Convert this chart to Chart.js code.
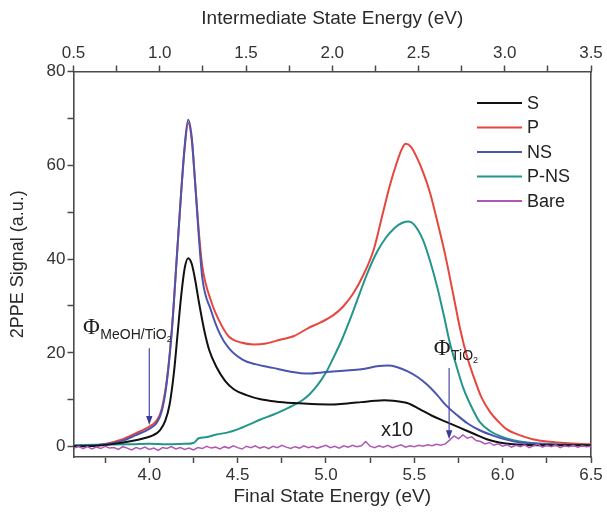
<!DOCTYPE html>
<html>
<head>
<meta charset="utf-8">
<script src="https://cdn.jsdelivr.net/npm/chart.js@4.4.1/dist/chart.umd.min.js"></script>
<style>
html,body{margin:0;padding:0;background:#fff;}
#wrap{width:607px;height:512px;}
</style>
</head>
<body>
<div id="wrap"><canvas id="c" width="607" height="512"></canvas></div>
<script>
// ---------- data ----------
const seriesNames = ['S', 'P', 'NS', 'P-NS', 'Bare'];

const sE = [3.57,3.7,3.8,3.9,3.97,4.02,4.06,4.09,4.115,4.14,4.16,4.18,4.20,4.22,4.24,4.26,4.28,4.31,4.34,4.38,4.43,4.48,4.55,4.63,4.72,4.82,4.92,5.04,5.12,5.2,5.28,5.33,5.38,5.46,5.53,5.6,5.68,5.76,5.84,5.91,5.98,6.06,6.2,6.5];
const sY = [0.1,0.2,0.6,1.2,1.8,2.4,3.5,5.5,9,16,24,32,38,40.2,39,35.5,31,25,20.5,17,14,12.2,11,10.1,9.6,9.3,9.1,9.0,9.2,9.5,9.8,9.9,9.8,9.3,8.0,6.6,5.3,4.0,2.7,1.6,0.9,0.5,0.3,0.3];

const pE = [3.57,3.65,3.75,3.85,3.92,4.00,4.04,4.07,4.10,4.13,4.155,4.18,4.20,4.22,4.24,4.26,4.28,4.30,4.35,4.40,4.45,4.52,4.59,4.66,4.74,4.82,4.9,4.97,5.04,5.1,5.155,5.21,5.27,5.32,5.36,5.40,5.43,5.45,5.48,5.51,5.55,5.59,5.64,5.68,5.72,5.76,5.8,5.835,5.88,5.93,5.98,6.02,6.1,6.17,6.25,6.35,6.5];
const pY = [0.1,0.2,0.6,1.6,2.8,4.3,5.5,8,14.5,26,40,54,63.5,69,65.5,56,46,38.5,31,26.5,23.5,22.2,21.8,22,22.8,23.6,25.3,26.5,28,30,32.7,36.5,42,49.5,55.5,60.5,63.5,64.6,64,62,58.5,54,46.5,40,32.5,25,19,15,10.5,7.3,5.2,3.8,2.4,1.6,1.1,0.8,0.5];

const nsE = [3.57,3.65,3.75,3.85,3.92,4.00,4.04,4.07,4.10,4.13,4.155,4.18,4.20,4.22,4.24,4.26,4.28,4.30,4.35,4.40,4.45,4.53,4.6,4.7,4.8,4.9,5.0,5.1,5.2,5.3,5.35,5.4,5.46,5.52,5.57,5.63,5.68,5.74,5.8,5.87,5.95,6.02,6.1,6.2,6.3,6.5];
const nsY = [0.1,0.2,0.5,1.3,2.4,3.8,5.0,7.5,14,26,40,54,64,69.7,66,56,45,36,29,24,21,18.5,17.6,16.8,16.0,15.6,15.9,16.2,16.5,17.2,17.3,17,16.1,14.8,13.3,11,8.8,6.8,5.0,3.5,2.3,1.5,0.9,0.6,0.4,0.2];

const pnsE = [3.57,3.7,3.9,4.0,4.1,4.2,4.25,4.28,4.32,4.38,4.44,4.5,4.57,4.63,4.7,4.76,4.82,4.87,4.91,4.95,5.0,5.04,5.09,5.14,5.19,5.23,5.29,5.34,5.39,5.43,5.47,5.50,5.55,5.59,5.63,5.67,5.70,5.74,5.78,5.83,5.87,5.93,5.99,6.06,6.14,6.3,6.5];
const pnsY = [0.3,0.4,0.5,0.6,0.5,0.6,0.8,1.8,2.0,2.6,3.0,3.7,4.8,5.8,6.8,7.8,8.9,10.0,11.3,13.0,15.8,18.8,22.8,27.5,32.6,36.6,41.6,44.6,46.7,47.7,48,47.3,44,39.5,34,27.5,22.3,17,12.2,8,5.3,3.3,2.2,1.4,0.9,0.5,0.3];

const bareE = [3.575,3.6,3.625,3.65,3.675,3.7,3.725,3.75,3.775,3.8,3.825,3.85,3.875,3.9,3.925,3.95,3.975,4.0,4.025,4.05,4.075,4.1,4.125,4.15,4.175,4.2,4.225,4.25,4.275,4.3,4.325,4.35,4.375,4.4,4.425,4.45,4.475,4.5,4.525,4.55,4.575,4.6,4.625,4.65,4.675,4.7,4.725,4.75,4.775,4.8,4.825,4.85,4.875,4.9,4.925,4.95,4.975,5.0,5.025,5.05,5.075,5.1,5.125,5.15,5.175,5.2,5.225,5.25,5.275,5.3,5.325,5.35,5.375,5.4,5.425,5.45,5.475,5.5,5.525,5.55,5.575,5.6,5.625,5.65,5.675,5.7,5.725,5.75,5.775,5.8,5.825,5.85,5.875,5.9,5.925,5.95,5.975,6.0,6.025,6.05,6.075,6.1,6.125,6.15,6.175,6.2,6.225,6.25,6.275,6.3,6.325,6.35,6.375,6.4,6.425,6.45,6.475,6.5];
const bareY = [-0.3,0.1,-0.4,0.0,-0.5,-0.1,-0.4,0.1,-0.3,-0.2,-0.6,0.0,-0.3,-0.7,-0.2,-0.5,-0.1,-0.6,-0.3,-0.8,-0.2,-0.4,0.0,-0.5,-0.2,-0.6,-0.3,-0.7,-0.2,-0.4,0.1,-0.3,-0.1,-0.5,0.0,-0.3,0.2,-0.2,-0.5,0.1,-0.2,0.2,-0.3,0.0,-0.4,0.1,-0.2,0.3,-0.1,-0.4,0.0,-0.3,0.2,-0.2,0.1,-0.3,0.0,0.3,-0.2,0.1,-0.3,0.2,-0.1,0.3,0.0,0.2,1.1,0.1,-0.2,0.2,-0.1,0.3,-0.2,0.1,0.4,-0.1,0.2,0.0,0.3,0.1,0.4,0.2,0.5,0.3,0.6,1.4,2.3,1.7,2.5,1.8,2.1,1.3,1.1,0.6,0.9,0.3,0.6,0.1,0.4,-0.1,0.3,0.0,0.4,-0.2,0.2,0.5,-0.1,0.3,0.0,0.4,-0.2,0.2,0.0,0.3,-0.1,0.2,0.0,0.1];

const bottomTicks = [3.75,4.0,4.25,4.5,4.75,5.0,5.25,5.5,5.75,6.0,6.25,6.5];
const topTicks = [0.5,0.75,1.0,1.25,1.5,1.75,2.0,2.25,2.5,2.75,3.0,3.25,3.5];
const leftTicks = [0,10,20,30,40,50,60,70,80];

// ---------- styling ----------
const colors = {S:'#111111', P:'#e8453e', NS:'#4a55b0', 'P-NS':'#23968b', Bare:'#b057b4'};
const axisColor = '#4a4a4a';
const textColor = '#333333';
Chart.defaults.font.family = "'Liberation Sans', Arial, sans-serif";
Chart.defaults.color = textColor;

function pts(xs, ys){ return xs.map((x,i)=>({x:x, y:ys[i]})); }
const seriesData = {S:pts(sE,sY), P:pts(pE,pY), NS:pts(nsE,nsY), 'P-NS':pts(pnsE,pnsY), Bare:pts(bareE,bareY)};
const drawOrder = {Bare:0, S:1, NS:2, 'P-NS':3, P:4};

const datasets = seriesNames.map(n => ({
  label: n,
  data: seriesData[n],
  borderColor: colors[n],
  backgroundColor: colors[n],
  borderWidth: n === 'Bare' ? 1.5 : 2,
  pointRadius: 0,
  fill: false,
  order: drawOrder[n],
  cubicInterpolationMode: n === 'Bare' ? 'default' : 'monotone',
  tension: n === 'Bare' ? 0 : 0.4
}));

function majorLabel(step, digits){
  return function(v){
    const r = v/step;
    return Math.abs(r - Math.round(r)) < 1e-6 ? Number(v).toFixed(digits) : '';
  };
}

// ---------- custom legend + annotations ----------
const extras = {
  id: 'extras',
  afterDatasetsDraw(chart){
    const ctx = chart.ctx;
    const xs = chart.scales.x, ys = chart.scales.y;
    const X = v => xs.getPixelForValue(v), Y = v => ys.getPixelForValue(v);
    ctx.save();
    // legend
    const rows = [103, 127.5, 152, 176.5, 201];
    ctx.font = "18px 'Liberation Sans', Arial, sans-serif";
    ctx.textBaseline = 'middle';
    ctx.textAlign = 'left';
    seriesNames.forEach((n,i)=>{
      ctx.strokeStyle = colors[n];
      ctx.lineWidth = 2;
      ctx.beginPath(); ctx.moveTo(477, rows[i]); ctx.lineTo(522, rows[i]); ctx.stroke();
      ctx.fillStyle = '#222';
      ctx.fillText(n, 527, rows[i] + 1);
    });
    // arrows
    function arrow(e, v1, v2){
      const x = X(e), y1 = Y(v1), y2 = Y(v2);
      ctx.strokeStyle = '#4848a8'; ctx.fillStyle = '#3a3a9a'; ctx.lineWidth = 1.2;
      ctx.beginPath(); ctx.moveTo(x, y1); ctx.lineTo(x, y2 - 7); ctx.stroke();
      ctx.beginPath(); ctx.moveTo(x - 3.2, y2 - 9); ctx.lineTo(x + 3.2, y2 - 9); ctx.lineTo(x, y2); ctx.closePath(); ctx.fill();
    }
    arrow(4.0, 21, 4.6);
    arrow(5.697, 16.8, 1.6);
    // Phi labels
    function phi(e, v, sub){
      let x = X(e), y = Y(v);
      ctx.fillStyle = '#222';
      ctx.textBaseline = 'alphabetic';
      ctx.font = "23px 'Liberation Serif', 'Times New Roman', serif";
      ctx.fillText('\u03A6', x, y);
      x += ctx.measureText('\u03A6').width + 0.5;
      ctx.font = "14px 'Liberation Sans', Arial, sans-serif";
      ctx.fillText(sub, x, y + 5);
      x += ctx.measureText(sub).width;
      ctx.font = "9px 'Liberation Sans', Arial, sans-serif";
      ctx.fillText('2', x, y + 8);
    }
    phi(3.625, 24.0, 'MeOH/TiO');
    phi(5.61, 19.6, 'TiO');
    // x10
    ctx.font = "20px 'Liberation Sans', Arial, sans-serif";
    ctx.textAlign = 'center'; ctx.textBaseline = 'middle';
    ctx.fillStyle = '#222';
    ctx.fillText('x10', X(5.402), Y(3.5));
    ctx.restore();
  }
};

new Chart(document.getElementById('c'), {
  type: 'line',
  data: { datasets },
  options: {
    responsive: false,
    animation: false,
    devicePixelRatio: 1,
    layout: { padding: 0 },
    plugins: { legend: { display: false }, tooltip: { enabled: false } },
    scales: {
      x: {
        type: 'linear', position: 'bottom', min: 3.571, max: 6.5,
        afterBuildTicks: s => { s.ticks = bottomTicks.map(v => ({value: v})); },
        afterFit: s => { s.height = 55; },
        ticks: { callback: majorLabel(0.5, 1), autoSkip: false, maxRotation: 0, padding: 2, color: textColor, font: { size: 17 } },
        grid: { drawOnChartArea: false, tickLength: 6, tickColor: axisColor, tickWidth: 1.5 },
        border: { display: true, color: axisColor, width: 1.6 },
        title: { display: true, text: 'Final State Energy (eV)', color: '#2a2a2a', font: { size: 19 }, padding: { top: 0, bottom: 4 } }
      },
      x2: {
        type: 'linear', position: 'top', min: 0.5, max: 3.5,
        afterBuildTicks: s => { s.ticks = topTicks.map(v => ({value: v})); },
        afterFit: s => { s.height = 71.5; },
        ticks: { callback: majorLabel(0.5, 1), autoSkip: false, maxRotation: 0, padding: 2, color: textColor, font: { size: 17 } },
        grid: { drawOnChartArea: false, tickLength: 6, tickColor: axisColor, tickWidth: 1.5 },
        border: { display: true, color: axisColor, width: 1.6 },
        title: { display: true, text: 'Intermediate State Energy (eV)', color: '#2a2a2a', font: { size: 19 }, padding: { top: 7, bottom: 0 } }
      },
      y: {
        type: 'linear', position: 'left', min: -2.2, max: 80,
        afterBuildTicks: s => { s.ticks = leftTicks.map(v => ({value: v})); },
        afterFit: s => { s.width = 73.5; },
        ticks: { callback: v => (v % 20 === 0 ? String(v) : ''), autoSkip: false, padding: 2, color: textColor, font: { size: 17 } },
        grid: { drawOnChartArea: false, tickLength: 6, tickColor: axisColor, tickWidth: 1.5 },
        border: { display: true, color: axisColor, width: 1.6 },
        title: { display: true, text: '2PPE Signal (a.u.)', color: '#2a2a2a', font: { size: 18 }, padding: { top: 7, bottom: 0 } }
      },
      y2: {
        type: 'linear', position: 'right', min: -2.2, max: 80,
        afterFit: s => { s.width = 16; },
        ticks: { display: false },
        grid: { drawOnChartArea: false, drawTicks: false },
        border: { display: true, color: axisColor, width: 1.6 }
      }
    }
  },
  plugins: [extras]
});
</script>
</body>
</html>
